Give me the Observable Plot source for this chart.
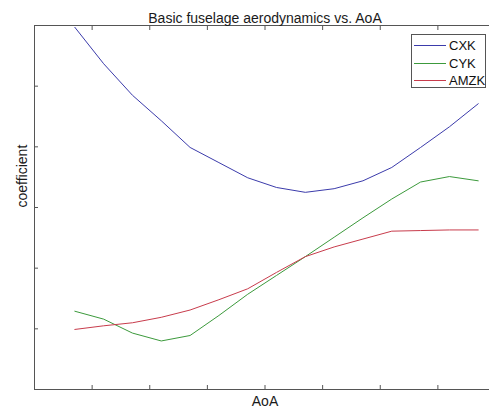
<!DOCTYPE html>
<html>
<head>
<meta charset="utf-8">
<script src="https://cdn.jsdelivr.net/npm/d3@7"></script>
<script src="https://cdn.jsdelivr.net/npm/@observablehq/plot@0.6"></script>
<style>
  html, body { margin: 0; padding: 0; background: #fff; overflow: hidden; }
  #chart { position: relative; width: 495px; height: 412px; font-family: "Liberation Sans", Arial, Helvetica, sans-serif; }
  #legend { position: absolute; left: 411px; top: 34px; width: 75px; height: 54px; box-sizing: border-box;
            border: 1px solid #555; background: #fff; padding-top: 2px; }
  .row { display: flex; align-items: center; height: 17.5px; font-size: 13px; color: #111; white-space: nowrap; }
  .swatch { flex: none; width: 32px; height: 1px; margin-left: 2px; margin-right: 3px; }
</style>
</head>
<body>
<div id="chart"></div>
<script>
// Angle of attack sample points (axis units, one tick per unit)
const aoa = [0.7, 1.2, 1.7, 2.2, 2.7, 3.2, 3.7, 4.2, 4.7, 5.2, 5.7, 6.2, 6.7, 7.2, 7.7];

// Fuselage coefficients at each AoA
const cxk  = [5.97, 5.37, 4.85, 4.43, 3.99, 3.74, 3.49, 3.33, 3.25, 3.31, 3.44, 3.66, 3.99, 4.33, 4.71];
const cyk  = [1.29, 1.16, 0.93, 0.80, 0.89, 1.22, 1.57, 1.88, 2.19, 2.51, 2.83, 3.14, 3.42, 3.51, 3.44];
const amzk = [0.99, 1.05, 1.10, 1.19, 1.31, 1.48, 1.66, 1.93, 2.19, 2.35, 2.48, 2.61, 2.62, 2.63, 2.63];

const seriesNames  = ["CXK", "CYK", "AMZK"];
const seriesColors = ["#3b3bab", "#3c9a3c", "#c83c4c"];

// Unlabelled tick positions
const xTicks = [0, 1, 2, 3, 4, 5, 6, 7, 8];
const yTicks = [0, 1, 2, 3, 4, 5, 6];

const titleText = "Basic fuselage aerodynamics vs. AoA";
const xLabel = "AoA";
const yLabel = "coefficient";

// Long-format table built from the series arrays
const seriesValues = [cxk, cyk, amzk];
const rows = seriesNames.flatMap((name, s) =>
  aoa.map((a, i) => ({series: name, aoa: a, value: seriesValues[s][i]}))
);

const axisColor = "#555";
const blank = () => "";

const chart = Plot.plot({
  width: 495,
  height: 412,
  marginLeft: 34,
  marginRight: 0,
  marginTop: 25,
  marginBottom: 23,
  style: {fontFamily: '"Liberation Sans", Arial, Helvetica, sans-serif', background: "#fff"},
  x: {domain: [0, 8]},
  y: {domain: [0, 6]},
  color: {domain: seriesNames, range: seriesColors},
  marks: [
    Plot.frame({stroke: axisColor}),
    Plot.axisX({anchor: "bottom", ticks: xTicks, tickSize: -4, tickFormat: blank, label: null, stroke: axisColor}),
    Plot.axisX({anchor: "top", ticks: xTicks, tickSize: -4, tickFormat: blank, label: null, stroke: axisColor}),
    Plot.axisY({anchor: "left", ticks: yTicks, tickSize: -4, tickFormat: blank, label: null, stroke: axisColor}),
    Plot.line(rows, {x: "aoa", y: "value", z: "series", stroke: "series", strokeWidth: 1}),
    Plot.text([titleText], {frameAnchor: "top", dy: -12, fontSize: 14, fill: "#1a1a1a"}),
    Plot.text([xLabel], {frameAnchor: "bottom", dy: 16, fontSize: 14, fill: "#1a1a1a"}),
    Plot.text([yLabel], {frameAnchor: "left", dx: -12, rotate: -90, fontSize: 14, fill: "#1a1a1a"})
  ]
});

const host = document.getElementById("chart");
host.appendChild(chart);

// Legend box in the upper right of the plot area
const legend = document.createElement("div");
legend.id = "legend";
seriesNames.forEach((name, i) => {
  const row = document.createElement("div");
  row.className = "row";
  const sw = document.createElement("span");
  sw.className = "swatch";
  sw.style.background = seriesColors[i];
  const label = document.createElement("span");
  label.textContent = name;
  row.appendChild(sw);
  row.appendChild(label);
  legend.appendChild(row);
});
host.appendChild(legend);
</script>
</body>
</html>
